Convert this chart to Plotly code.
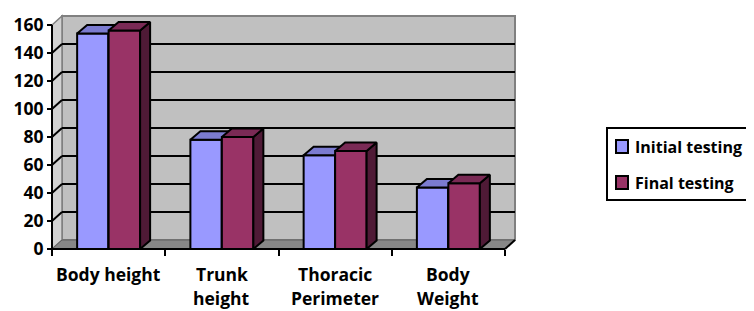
import plotly.graph_objects as go

# ---------------- data ----------------
categories = ["Body height", "Trunk height", "Thoracic Perimeter", "Body Weight"]
label_lines = [["Body height"], ["Trunk", "height"], ["Thoracic", "Perimeter"], ["Body", "Weight"]]
initial_testing = [154, 78, 67, 44]
final_testing = [156, 80, 70, 47]
y_ticks = [0, 20, 40, 60, 80, 100, 120, 140, 160]
series_names = ["Initial testing", "Final testing"]

# ---------------- styles ----------------
FRONT = ["#9999FF", "#993366"]
TOP = ["#7B7BD0", "#7A2A55"]
SIDE = ["#5B5BA0", "#4F1A36"]
FONT = dict(family="Open Sans, sans-serif", size=17.5, color="black", weight="bold")
LEG_FONT = dict(family="Open Sans, sans-serif", size=16, color="black", weight="bold")

# ---------------- geometry (layout) ----------------
OFF = 8                      # page body margin of the html page
W_FIG, H_FIG = 754, 311
ML, MR, MT, MB = 38, 230, 0, 56
plot_w = W_FIG - ML - MR
plot_h = H_FIG - MT - MB
X0_PX, Y0_PX = 52 - OFF, 249 - OFF   # pixel of category-axis origin
KX, KY = 113.25, 1.4                 # pixels per category / per unit
xmin = (ML - X0_PX) / KX
xmax = (ML + plot_w - X0_PX) / KX
ymin = -(MT + plot_h - Y0_PX) / KY
ymax = (Y0_PX - MT) / KY
WX, WY = 10 / KX, 9 / KY    # wall depth
BX, BY = 10 / KX, 8.5 / KY  # bar depth
n = len(categories)
ytop = y_ticks[-1]
xs = [i + 0.5 for i in range(n)]
BARGAP = 0.444
bw = (1 - BARGAP) / 2


def pxx(p):  # page pixel -> paper x
    return (p - OFF - ML) / plot_w


def pxy(p):  # page pixel -> paper y
    return (MT + plot_h - (p - OFF)) / plot_h


fig = go.Figure()

# front faces as bars
for k, (name, vals) in enumerate(zip(series_names, [initial_testing, final_testing])):
    fig.add_trace(go.Bar(
        x=xs, y=vals, name=name, showlegend=False,
        marker=dict(color=FRONT[k], line=dict(color="black", width=2)),
        hoverinfo="skip",
    ))


def poly_trace(polys, color):
    px, py = [], []
    for pts in polys:
        for (a, b) in pts:
            px.append(a)
            py.append(b)
        px.append(pts[0][0])
        py.append(pts[0][1])
        px.append(None)
        py.append(None)
    return go.Scatter(x=px, y=py, mode="lines", fill="toself", fillcolor=color,
                      line=dict(color="black", width=2), showlegend=False,
                      hoverinfo="skip")


for k, vals in enumerate([initial_testing, final_testing]):
    lefts = [x - bw + k * bw for x in xs]
    fronts, tops, sides = [], [], []
    for xl, v in zip(lefts, vals):
        xr = xl + bw
        fronts.append([(xl, 0), (xl, v), (xr, v), (xr, 0)])
        tops.append([(xl, v), (xl + BX, v + BY), (xr + BX, v + BY), (xr, v)])
        sides.append([(xr, 0), (xr, v), (xr + BX, v + BY), (xr + BX, BY)])
    if k > 0:
        fig.add_trace(poly_trace(fronts, FRONT[k]))
    fig.add_trace(poly_trace(sides, SIDE[k]))
    fig.add_trace(poly_trace(tops, TOP[k]))

# ---------------- walls / floor / grid ----------------
shapes = []
shapes.append(dict(type="rect", xref="x", yref="y", x0=WX, x1=n + WX, y0=WY, y1=ytop + WY,
                   fillcolor="#C0C0C0", line=dict(color="#808080", width=2), layer="below"))
shapes.append(dict(type="path", xref="x", yref="y",
                   path=f"M 0,0 L {WX},{WY} L {WX},{ytop + WY} L 0,{ytop} Z",
                   fillcolor="#D2D2D2", line=dict(color="#808080", width=1.5), layer="below"))
shapes.append(dict(type="path", xref="x", yref="y",
                   path=f"M 0,0 L {n},0 L {n + WX},{WY} L {WX},{WY} Z",
                   fillcolor="#878787", line=dict(color="#606060", width=1), layer="below"))
for v in y_ticks[1:-1]:
    shapes.append(dict(type="line", xref="x", yref="y", x0=WX, x1=n + WX, y0=v + WY, y1=v + WY,
                       line=dict(color="black", width=2), layer="below"))
    shapes.append(dict(type="line", xref="x", yref="y", x0=0, x1=WX, y0=v, y1=v + WY,
                       line=dict(color="black", width=2), layer="below"))
# axis lines
shapes.append(dict(type="line", xref="x", yref="y", x0=0, x1=0, y0=0, y1=ytop,
                   line=dict(color="black", width=2), layer="above"))
shapes.append(dict(type="line", xref="x", yref="y", x0=0, x1=n, y0=0, y1=0,
                   line=dict(color="black", width=2), layer="above"))
shapes.append(dict(type="line", xref="x", yref="y", x0=n, x1=n + WX, y0=0, y1=WY,
                   line=dict(color="black", width=2), layer="above"))

# ---------------- legend (box, swatches, labels) ----------------
annotations = []
shapes.append(dict(type="rect", xref="paper", yref="paper",
                   x0=pxx(607), x1=pxx(753), y0=pxy(200), y1=pxy(128),
                   fillcolor="white", line=dict(color="black", width=2), layer="above"))
for k, (name, cy) in enumerate(zip(series_names, [146.5, 182.5])):
    shapes.append(dict(type="rect", xref="paper", yref="paper",
                       x0=pxx(616), x1=pxx(628), y0=pxy(cy + 6.5), y1=pxy(cy - 6.5),
                       fillcolor=FRONT[k], line=dict(color="black", width=2), layer="above"))
    annotations.append(dict(x=pxx(633), xref="paper", y=pxy(cy), yref="paper",
                            text=name, showarrow=False, font=LEG_FONT,
                            xanchor="left", yanchor="middle"))

# ---------------- category labels ----------------
for x, lines in zip(xs, label_lines):
    for j, t in enumerate(lines):
        annotations.append(dict(x=x, xref="x", y=pxy(274 + 24 * j), yref="paper",
                                text=t, showarrow=False, font=FONT,
                                xanchor="center", yanchor="middle"))

fig.update_layout(
    width=W_FIG, height=H_FIG,
    margin=dict(l=ML, r=MR, t=MT, b=MB, pad=0, autoexpand=False),
    paper_bgcolor="white", plot_bgcolor="white",
    barmode="group", bargap=BARGAP, bargroupgap=0,
    shapes=shapes, annotations=annotations,
    xaxis=dict(range=[xmin, xmax], tickvals=list(range(n + 1)), ticktext=[""] * (n + 1),
               ticks="outside", ticklen=6, tickwidth=2, tickcolor="black",
               showgrid=False, zeroline=False, showline=False, automargin=False,
               anchor="free", position=(MT + plot_h - Y0_PX) / plot_h),
    yaxis=dict(range=[ymin, ymax], tickvals=y_ticks,
               ticks="outside", ticklen=5, tickwidth=2, tickcolor="black",
               showgrid=False, zeroline=False, showline=False, tickfont=FONT,
               automargin=False,
               anchor="free", position=(X0_PX - ML) / plot_w),
    showlegend=False,
)

fig.write_html("out.html")
